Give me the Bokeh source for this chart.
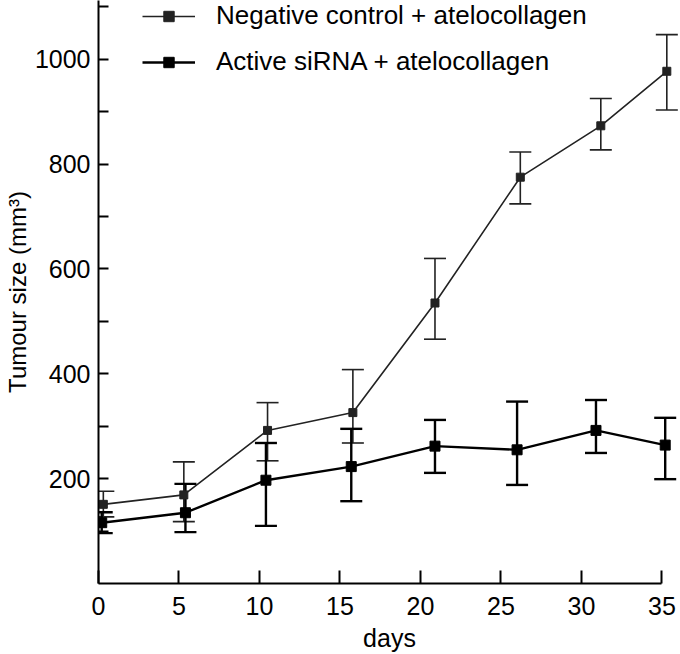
from bokeh.plotting import figure
from bokeh.models import (ColumnDataSource, Whisker, TeeHead, FixedTicker, Range1d,
                          Legend, LegendItem)
from bokeh.embed import file_html
from bokeh.resources import INLINE

# ---- data ----
x_ticks = [0, 5, 10, 15, 20, 25, 30, 35]
y_ticks = [200, 400, 600, 800, 1000]
y_minor = [100, 300, 500, 700, 900, 1100]

neg_label = "Negative control + atelocollagen"
neg_days = [0.3, 5.3, 10.5, 15.8, 20.9, 26.2, 31.2, 35.3]
neg_mean = [151, 169, 292, 326, 535, 775, 873, 977]
neg_upper = [176, 232, 345, 408, 620, 823, 925, 1047]
neg_lower = [127, 118, 234, 268, 466, 724, 827, 903]

act_label = "Active siRNA + atelocollagen"
act_days = [0.2, 5.4, 10.4, 15.7, 20.9, 26.0, 30.9, 35.2]
act_mean = [116, 135, 197, 223, 262, 255, 292, 264]
act_upper = [136, 190, 268, 295, 312, 347, 350, 316]
act_lower = [96, 98, 110, 157, 211, 188, 249, 199]

FONT = "Liberation Sans"
NEG_COLOR = "#222222"
ACT_COLOR = "#000000"

p = figure(width=680, height=654, output_backend="svg", toolbar_location=None,
           x_range=Range1d(0, 36.15), y_range=Range1d(0, 1112),
           min_border_left=98, min_border_right=0, min_border_top=0, min_border_bottom=0)
p.grid.visible = False
p.outline_line_color = None
p.background_fill_color = "white"
p.border_fill_color = "white"

# axes
xa = p.xaxis[0]
xa.ticker = FixedTicker(ticks=x_ticks)
xa.bounds = (0, 35)
xa.axis_label = "days"
ya = p.yaxis[0]
ya.ticker = FixedTicker(ticks=y_ticks, minor_ticks=y_minor)
ya.axis_label = "Tumour size (mm³)"

for ax in (xa, ya):
    ax.axis_line_width = 2
    ax.axis_line_color = "black"
    ax.major_tick_line_width = 2
    ax.minor_tick_line_width = 2
    ax.major_tick_line_color = "black"
    ax.minor_tick_line_color = "black"
    ax.major_tick_out = 0
    ax.minor_tick_out = 0
    ax.major_label_text_font = FONT
    ax.major_label_text_font_size = "25px"
    ax.major_label_text_color = "black"
    ax.axis_label_text_font = FONT
    ax.axis_label_text_font_style = "normal"
    ax.axis_label_text_color = "black"

xa.axis_label_text_font_size = "25px"
ya.axis_label_text_font_size = "24px"
xa.major_tick_in = 13
xa.minor_tick_in = 0
xa.major_label_standoff = 13
xa.axis_label_standoff = 6
ya.major_tick_in = 10
ya.minor_tick_in = 10
ya.major_label_standoff = 8
ya.axis_label_standoff = 1

# error bars
neg_src = ColumnDataSource(dict(x=neg_days, y=neg_mean, up=neg_upper, lo=neg_lower))
act_src = ColumnDataSource(dict(x=act_days, y=act_mean, up=act_upper, lo=act_lower))

for src, color, lw in ((neg_src, NEG_COLOR, 1.6), (act_src, ACT_COLOR, 2.4)):
    w = Whisker(source=src, base="x", upper="up", lower="lo",
                line_color=color, line_width=lw,
                upper_head=TeeHead(size=22, line_color=color, line_width=lw),
                lower_head=TeeHead(size=22, line_color=color, line_width=lw))
    p.add_layout(w)

# lines and markers
l1 = p.line("x", "y", source=neg_src, line_color=NEG_COLOR, line_width=1.6)
s1 = p.scatter("x", "y", source=neg_src, marker="square", size=8,
               fill_color=NEG_COLOR, line_color=NEG_COLOR)
l2 = p.line("x", "y", source=act_src, line_color=ACT_COLOR, line_width=2.4)
s2 = p.scatter("x", "y", source=act_src, marker="square", size=10,
               fill_color=ACT_COLOR, line_color=ACT_COLOR)

legend = Legend(items=[LegendItem(label=neg_label, renderers=[l1, s1]),
                       LegendItem(label=act_label, renderers=[l2, s2])],
                location=(44, 506))
legend.glyph_width = 53
legend.glyph_height = 26
legend.label_height = 26
legend.spacing = 15
legend.padding = 0
legend.margin = 0
legend.label_standoff = 21
legend.label_text_font = FONT
legend.label_text_font_size = "26px"
legend.label_text_color = "black"
legend.background_fill_alpha = 0
legend.border_line_color = None
p.add_layout(legend)

open("out.html", "w").write(file_html(p, INLINE))
